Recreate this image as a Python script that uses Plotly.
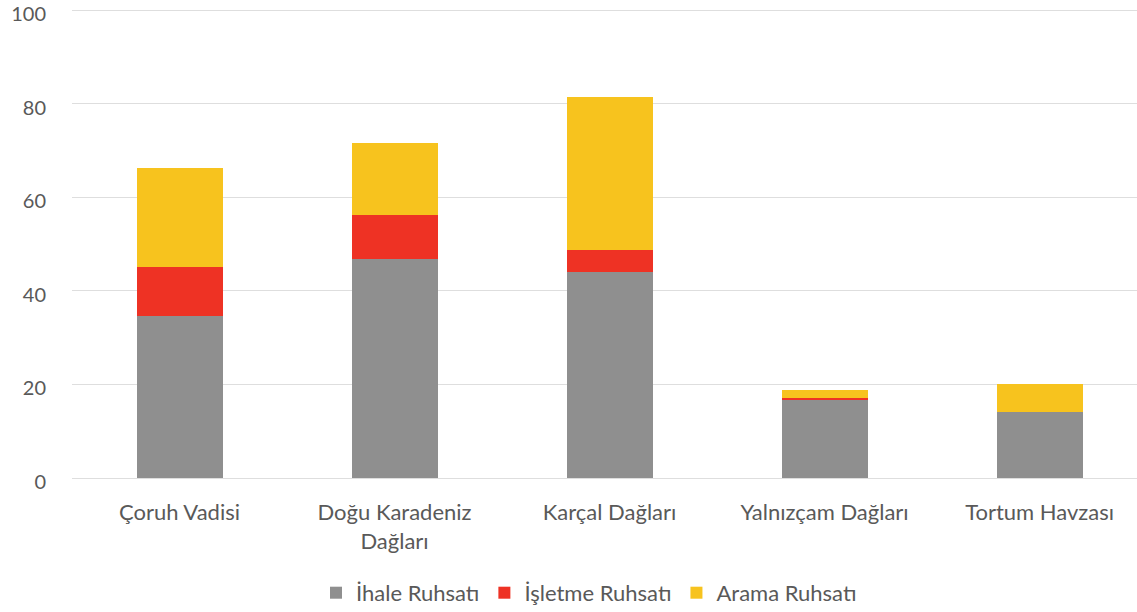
import plotly.graph_objects as go

categories = ["Çoruh Vadisi", "Doğu Karadeniz<br>Dağları", "Karçal Dağları", "Yalnızçam Dağları", "Tortum Havzası"]
ihale = [34.7, 46.8, 44.1, 16.7, 14.2]
isletme = [10.4, 9.5, 4.7, 0.5, 0.0]
arama = [21.1, 15.4, 32.6, 1.7, 6.0]
series_names = ["İhale Ruhsatı", "İşletme Ruhsatı", "Arama Ruhsatı"]
colors = ["#8f8f8f", "#ee3224", "#f7c31e"]
yticks = [0, 20, 40, 60, 80, 100]

fig = go.Figure()
for name, vals, col in zip(series_names, [ihale, isletme, arama], colors):
    fig.add_trace(go.Bar(x=categories, y=vals, name=name, marker=dict(color=col, line=dict(width=0))))

font = "Lato, 'Open Sans', sans-serif"
fig.update_layout(
    barmode="stack",
    bargap=0.6,
    width=1137, height=612,
    margin=dict(l=72, r=0, t=9.3, b=133.7, autoexpand=False),
    plot_bgcolor="white", paper_bgcolor="white",
    font=dict(family=font, size=20, color="#595959"),
    showlegend=True,
    legend=dict(orientation="h", x=0.2291, xanchor="left", y=-0.245, yanchor="middle",
                font=dict(size=22, color="#595959"), traceorder="normal", itemwidth=30),
    xaxis=dict(range=[-0.5, 4.453], showgrid=False, showline=False, ticks="", automargin=False,
               ticklabelstandoff=19, tickfont=dict(size=22)),
    yaxis=dict(range=[0, 100.3], tickvals=yticks, showgrid=True, gridcolor="#dedede", gridwidth=1,
               zeroline=True, zerolinecolor="#dedede", zerolinewidth=1, showline=False, automargin=False,
               ticks="", ticklabelstandoff=25, ticklabelshift=4, ticklabeloverflow="allow",
               tickfont=dict(size=20)),
)
fig.write_html("out.html", config={"displayModeBar": False},
               post_script="document.body.style.margin='0';")
